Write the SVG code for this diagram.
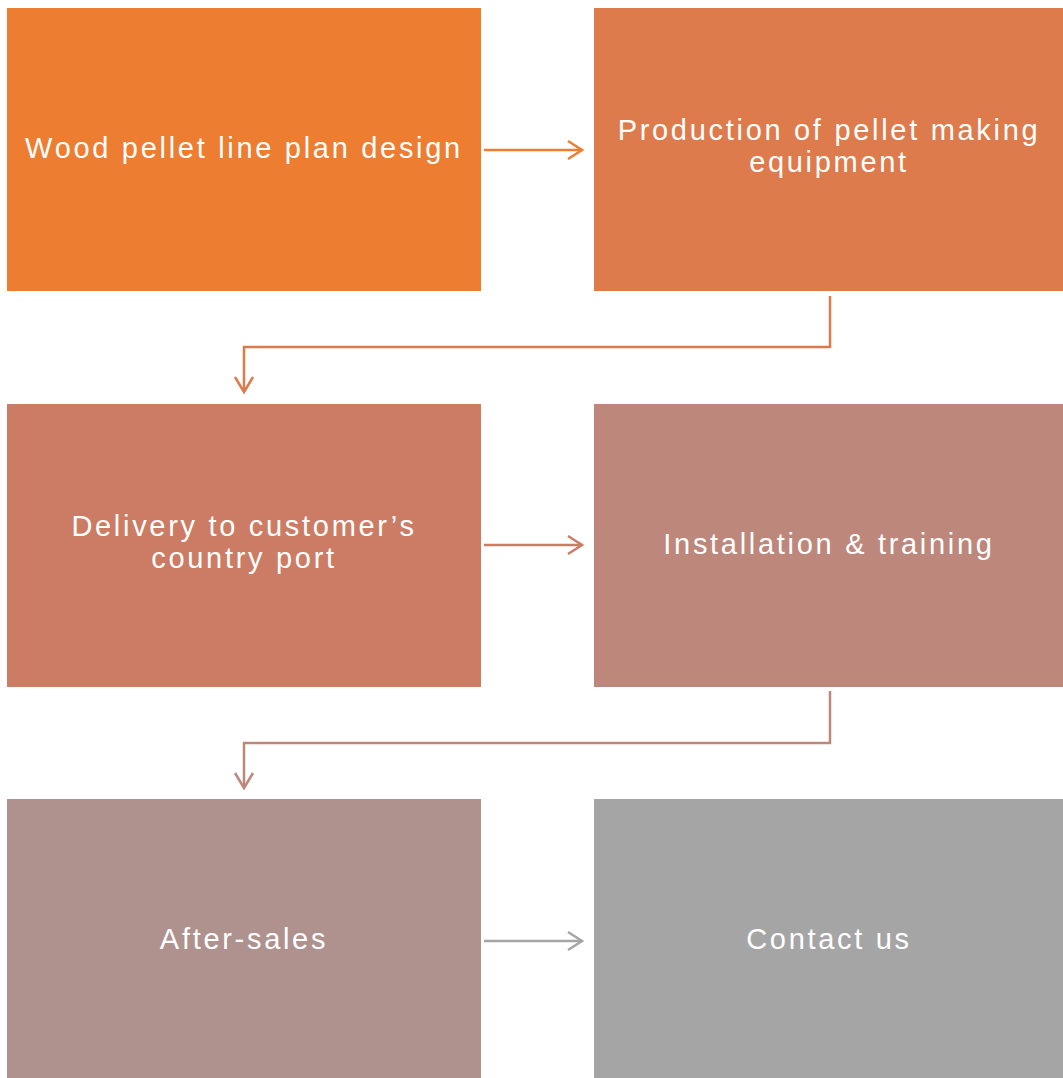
<svg xmlns="http://www.w3.org/2000/svg" width="1063" height="1078" viewBox="0 0 1063 1078">
<style>
.t{font-family:"Liberation Sans",Arial,sans-serif;font-size:29px;letter-spacing:2.7px;fill:#ffffff;text-anchor:middle}
.c{fill:none;stroke-width:2.5}
</style>
<rect width="1063" height="1078" fill="#ffffff"/>
<g id="n1"><rect x="7" y="8" width="474" height="283" fill="#ED7D31"/><text class="t" x="244" y="158">Wood pellet line plan design</text></g>
<g id="n2"><rect x="594" y="8" width="469" height="283" fill="#DE7B4C"/><text class="t" x="829" y="140">Production of pellet making</text><text class="t" x="829" y="172">equipment</text></g>
<g id="n3"><rect x="7" y="404" width="474" height="283" fill="#CC7C64"/><text class="t" x="244" y="536">Delivery to customer’s</text><text class="t" x="244" y="568">country port</text></g>
<g id="n4"><rect x="594" y="404" width="469" height="283" fill="#BD877B"/><text class="t" x="829" y="554">Installation &amp; training</text></g>
<g id="n5"><rect x="7" y="799" width="474" height="279" fill="#AF918E"/><text class="t" x="244" y="949">After-sales</text></g>
<g id="n6"><rect x="594" y="799" width="469" height="279" fill="#A5A5A5"/><text class="t" x="829" y="949">Contact us</text></g>
<g id="connectors">
<path class="c" stroke="#ED7D31" d="M484,150 H582"/><path class="c" stroke="#ED7D31" d="M568,141 L582,150 L568,159"/>
<path class="c" stroke="#DE7B4C" d="M830,296 V347 H244 V392"/><path class="c" stroke="#DE7B4C" d="M235,377 L244,392 L253,377"/>
<path class="c" stroke="#CC7C64" d="M484,545 H582"/><path class="c" stroke="#CC7C64" d="M568,536 L582,545 L568,554"/>
<path class="c" stroke="#BD877B" d="M830,691 V743 H244 V788"/><path class="c" stroke="#BD877B" d="M235,773 L244,788 L253,773"/>
<path class="c" stroke="#A5A5A5" d="M484,941 H582"/><path class="c" stroke="#A5A5A5" d="M568,932 L582,941 L568,950"/>
</g>
</svg>
